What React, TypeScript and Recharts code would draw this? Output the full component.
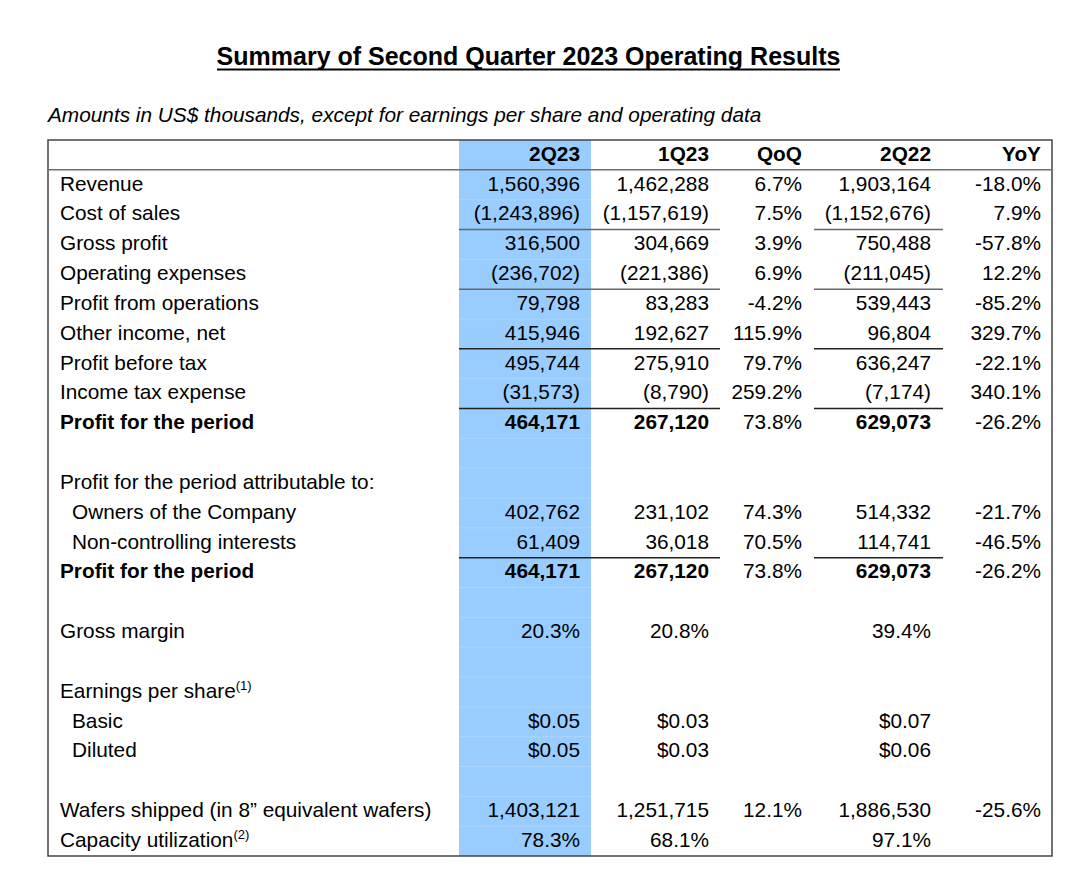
import React from 'react'
import { ScatterChart, Scatter, XAxis, YAxis, ReferenceArea, ReferenceLine } from 'recharts'

// row labels of the table body
const rowLabels = [
  'Revenue',
  'Cost of sales',
  'Gross profit',
  'Operating expenses',
  'Profit from operations',
  'Other income, net',
  'Profit before tax',
  'Income tax expense',
  'Profit for the period',
  '',
  'Profit for the period attributable to:',
  'Owners of the Company',
  'Non-controlling interests',
  'Profit for the period',
  '',
  'Gross margin',
  '',
  'Earnings per share',
  'Basic',
  'Diluted',
  '',
  'Wafers shipped (in 8\u201d equivalent wafers)',
  'Capacity utilization',
]

const headers = ['2Q23', '1Q23', 'QoQ', '2Q22', 'YoY']

type Fmt = 'amt' | 'pct' | 'eps' | null
const rowFormats: Fmt[] = [
  'amt', 'amt', 'amt', 'amt', 'amt', 'amt', 'amt', 'amt', 'amt', null,
  null, 'amt', 'amt', 'amt', null, 'pct', null, null, 'eps', 'eps', null, 'amt', 'pct',
]

const q2_23 = [
  1560396, -1243896, 316500, -236702, 79798, 415946, 495744, -31573, 464171, null,
  null, 402762, 61409, 464171, null, 20.3, null, null, 0.05, 0.05, null, 1403121, 78.3,
]
const q1_23 = [
  1462288, -1157619, 304669, -221386, 83283, 192627, 275910, -8790, 267120, null,
  null, 231102, 36018, 267120, null, 20.8, null, null, 0.03, 0.03, null, 1251715, 68.1,
]
const qoq = [
  6.7, 7.5, 3.9, 6.9, -4.2, 115.9, 79.7, 259.2, 73.8, null,
  null, 74.3, 70.5, 73.8, null, null, null, null, null, null, null, 12.1, null,
]
const q2_22 = [
  1903164, -1152676, 750488, -211045, 539443, 96804, 636247, -7174, 629073, null,
  null, 514332, 114741, 629073, null, 39.4, null, null, 0.07, 0.06, null, 1886530, 97.1,
]
const yoy = [
  -18.0, 7.9, -57.8, 12.2, -85.2, 329.7, -22.1, 340.1, -26.2, null,
  null, -21.7, -46.5, -26.2, null, null, null, null, null, null, null, -25.6, null,
]

// styling of rows
const boldRows = [8, 13]
const indentRows = [11, 12, 18, 19]
const footnotes: Record<number, string> = { 17: '(1)', 22: '(2)' }
const ruledRows = [2, 4, 6, 8, 13]
const greyRules = [2, 4]

// layout (table units, 0 = left border of the table)
const TABLE_W = 1004
const BLUE = [411, 543]
const RULE_A = [411, 672]
const RULE_B = [766, 895]
const COLS = [
  { values: q2_23, anchor: 532, fmt: 'row', boldable: true },
  { values: q1_23, anchor: 661, fmt: 'row', boldable: true },
  { values: qoq, anchor: 754, fmt: 'pct', boldable: false },
  { values: q2_22, anchor: 883, fmt: 'row', boldable: true },
  { values: yoy, anchor: 993, fmt: 'pct', boldable: false },
]

const FONT = '"Liberation Sans", Arial, Helvetica, sans-serif'
const FS = 20.8

const format = (v: number | null, f: Fmt) => {
  if (v === null || f === null) return ''
  if (f === 'pct') return `${v.toFixed(1)}%`
  if (f === 'eps') return `$${v.toFixed(2)}`
  const s = Math.abs(v).toLocaleString('en-US')
  return v < 0 ? `(${s})` : s
}

type Cell = { x: number; y: number; text: string; bold: boolean; anchor: 'start' | 'end'; note?: string }

const labelCells: Cell[] = rowLabels.map((l, i) => ({
  x: indentRows.includes(i) ? 24 : 12,
  y: i + 1,
  text: l,
  bold: boldRows.includes(i),
  anchor: 'start',
  note: footnotes[i],
}))

const valueCells: Cell[][] = COLS.map((c, ci) => [
  { x: c.anchor, y: 0, text: headers[ci], bold: true, anchor: 'end' as const },
  ...c.values.map((v, i) => ({
    x: c.anchor,
    y: i + 1,
    text: format(v, c.fmt === 'pct' ? (v === null ? null : 'pct') : rowFormats[i]),
    bold: c.boldable && boldRows.includes(i),
    anchor: 'end' as const,
  })),
])

const renderCell = (props: any) => {
  const p: Cell = props.payload ?? props
  if (!p.text) return <g />
  return (
    <text
      x={props.cx}
      y={props.cy + FS * 0.28}
      textAnchor={p.anchor}
      fontFamily={FONT}
      fontSize={FS}
      fontWeight={p.bold ? 'bold' : 'normal'}
      fill="#000"
    >
      {p.text}
      {p.note && (
        <tspan fontSize={13} dy={-8}>
          {p.note}
        </tspan>
      )}
    </text>
  )
}

export default function App() {
  const rowBounds = Array.from({ length: 22 }, (_, i) => i + 1.5)
  return (
    <div style={{ position: 'absolute', left: 0, top: 0, width: 1078, height: 884, background: '#fff' }}>
      <svg width={1078} height={130} style={{ position: 'absolute', left: 0, top: 0 }}>
        <text
          x={528.5}
          y={65}
          textAnchor="middle"
          fontFamily={FONT}
          fontSize={25}
          fontWeight="bold"
        >
          Summary of Second Quarter 2023 Operating Results
        </text>
        <line x1={217} x2={840} y1={69.5} y2={69.5} stroke="#000" strokeWidth={2} />
        <text x={48} y={122} fontFamily={FONT} fontSize={20.8} fontStyle="italic">
          Amounts in US$ thousands, except for earnings per share and operating data
        </text>
      </svg>
      <div style={{ position: 'absolute', left: 0, top: 0 }}>
        <ScatterChart width={1078} height={884} margin={{ top: 140, right: 26, bottom: 28, left: 48 }}>
          <XAxis type="number" dataKey="x" domain={[0, TABLE_W]} allowDataOverflow hide />
          <YAxis type="number" dataKey="y" domain={[-0.5, 23.5]} allowDataOverflow reversed hide />
          <ReferenceArea x1={BLUE[0]} x2={BLUE[1]} y1={-0.5} y2={23.5} fill="#99CCFF" fillOpacity={1} stroke="none" />
          {rowBounds.map((y) => (
            <ReferenceLine
              key={`b-${y}`}
              segment={[{ x: BLUE[0], y }, { x: BLUE[1], y }]}
              stroke="#a9d5ff"
              strokeWidth={1}
            />
          ))}
          <ReferenceLine y={0.5} stroke="#6e6e6e" strokeWidth={1.5} />
          {ruledRows.map((r) => (
            <ReferenceLine
              key={`ra-${r}`}
              segment={[{ x: RULE_A[0], y: r + 0.5 }, { x: RULE_A[1], y: r + 0.5 }]}
              stroke={greyRules.includes(r) ? '#666' : '#222'}
              strokeWidth={1.5}
            />
          ))}
          {ruledRows.map((r) => (
            <ReferenceLine
              key={`rb-${r}`}
              segment={[{ x: RULE_B[0], y: r + 0.5 }, { x: RULE_B[1], y: r + 0.5 }]}
              stroke={greyRules.includes(r) ? '#666' : '#222'}
              strokeWidth={1.5}
            />
          ))}
          <ReferenceArea
            x1={0}
            x2={TABLE_W}
            y1={-0.5}
            y2={23.5}
            fill="none"
            stroke="#444"
            strokeWidth={1.5}
          />
          <Scatter data={labelCells} shape={renderCell} isAnimationActive={false} />
          {valueCells.map((cells, i) => (
            <Scatter key={i} data={cells} shape={renderCell} isAnimationActive={false} />
          ))}
        </ScatterChart>
      </div>
    </div>
  )
}
